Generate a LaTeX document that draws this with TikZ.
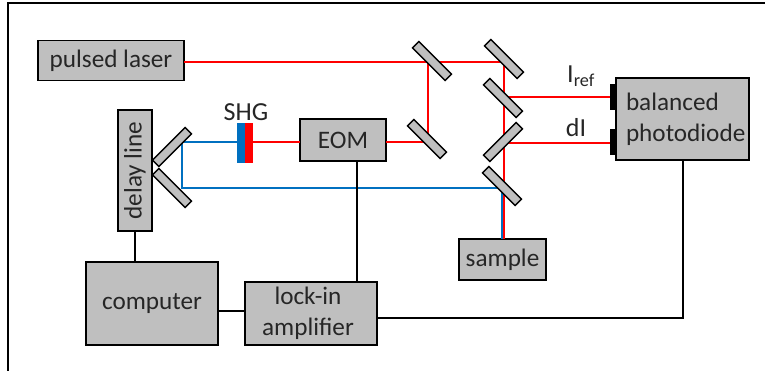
\documentclass[tikz,border=0pt]{standalone}
\usepackage{fontspec}
\setmainfont{Carlito}
\usepackage{tikz}
\usetikzlibrary{calc}
\definecolor{boxgray}{RGB}{191,191,191}
\definecolor{beamblue}{RGB}{0,112,192}
\definecolor{beamred}{RGB}{255,0,0}
\tikzset{
    box/.style={draw=black, fill=boxgray, line width=1.7pt, inner sep=0pt, outer sep=0pt, align=center, text=black!85, font=\fontsize{25.2}{31}\selectfont},
    mirror/.style={draw=black, fill=boxgray, line width=1.4pt, inner sep=0pt, outer sep=0pt, minimum width=46pt, minimum height=9pt},
    wire/.style={draw=black, line width=1.6pt},
    redbeam/.style={draw=beamred, line width=2pt},
    bluebeam/.style={draw=beamblue, line width=2pt},
    detector/.style={fill=black, inner sep=0pt, outer sep=0pt, minimum width=6pt, minimum height=26pt},
    crystal/.style={inner sep=0pt, outer sep=0pt, minimum width=8pt, minimum height=40pt},
    caption/.style={inner sep=0pt, text=black!85, font=\fontsize{26}{30}\selectfont}
}

\begin{document}
\begin{tikzpicture}[x=1pt, y=-1pt]
            \useasboundingbox (0,0) rectangle (765,371);
            \draw[line width=2pt] (8,371) -- (8,3) -- (765,3);

            \node[box, minimum width=146pt, minimum height=40pt] (laser) at (111,60.5) {pulsed laser};
            \node[box, minimum width=86pt, minimum height=42pt] (eom) at (343,140) {EOM};
            \node[box, minimum width=121pt, minimum height=34pt, rotate=90] (delay) at (135,170.5) {delay line};
            \node[box, minimum width=132pt, minimum height=83pt] (computer) at (152,303.5) {computer};
            \node[box, minimum width=132pt, minimum height=63pt] (lockin) at (311,313.5) {lock-in\hspace*{6pt}\\amplifier\hspace*{6pt}};
            \node[box, minimum width=87pt, minimum height=41pt] (sample) at (502.5,259.5) {sample};
            \node[box, minimum width=133pt, minimum height=82pt, text width=133pt, align=left] (diode) at (682.5,119) {\hspace*{10pt}balanced\\\hspace*{10pt}photodiode};
            \node[detector] (det1) at (613,97) {};
            \node[detector] (det2) at (613,142) {};

            \node[crystal, fill=beamblue] (shgb) at (241,143) {};
            \node[crystal, fill=beamred] (shgr) at (249,143) {};
            \node[caption] (shg) at (246,112) {SHG};
            \node[caption] (iref) at (581,76) {I\textsubscript{ref}};
            \node[caption] (di) at (576,128) {dI};

            \coordinate (a1) at (428,62);
            \coordinate (a2) at (504,62);
            \coordinate (a3) at (504,97);
            \coordinate (a4) at (504,143);
            \coordinate (a5) at (428,142);
            \coordinate (b1) at (182,142);
            \coordinate (b2) at (182,188);
            \coordinate (b3) at (502,188);

            \draw[redbeam] (laser.east |- a1) -- (a1) -- (a2) -- (a2 |- sample.north);
            \draw[redbeam] (eom.east |- a5) -- (a5) -- (a1);
            \draw[redbeam] (shgr.east |- b1) -- (eom.west |- b1);
            \draw[redbeam] (a3) -- (det1.west);
            \draw[redbeam] (a4) -- (det2.west |- a4);
            \draw[bluebeam] (shgb.west |- b1) -- (b1) -- (b2) -- (b3) -- (b3 |- sample.north);

            \node[mirror, rotate=-45] (m1) at (432,61) {};
            \node[mirror, rotate=-45] (m2) at (504,59) {};
            \node[mirror, rotate=-45] (m3) at (503,98) {};
            \node[mirror, rotate=45] (m4) at (503,142) {};
            \node[mirror, rotate=-45] (m5) at (502,186) {};
            \node[mirror, rotate=-45] (m6) at (427,139) {};
            \node[mirror, rotate=45] (m7) at (172,147) {};
            \node[mirror, rotate=-45] (m8) at (172,188) {};

            \draw[wire] (delay.west) -- (delay.west |- computer.north);
            \draw[wire] (computer.east |- 0,311) -- (lockin.west |- 0,311);
            \draw[wire] (eom.south -| 357,0) -- (lockin.north -| 357,0);
            \draw[wire] (lockin.east |- 0,318) -- (683,318) -- (683,160);
        \end{tikzpicture}
\end{document}
